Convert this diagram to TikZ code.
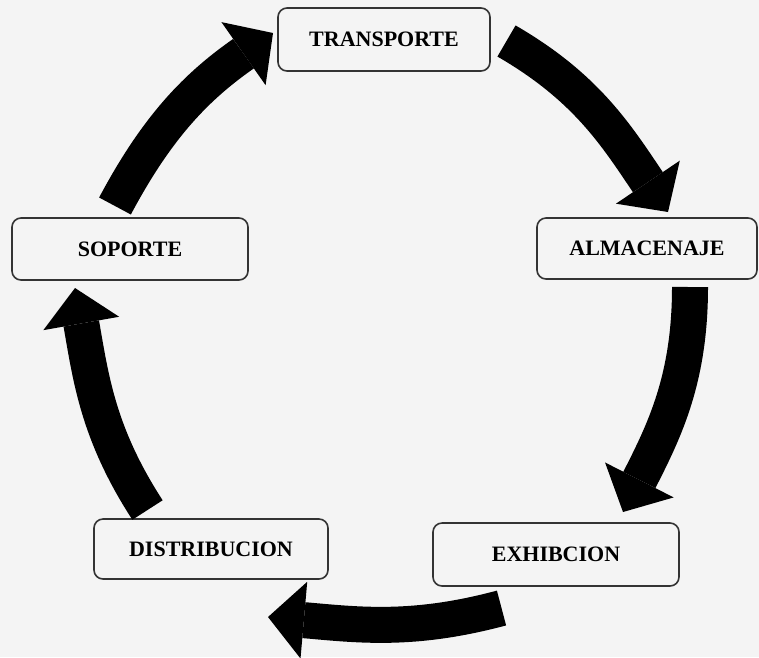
\documentclass[tikz,border=0pt]{standalone}
\usepackage{fontspec}
\setmainfont{Liberation Serif}
\usetikzlibrary{arrows.meta}
\definecolor{paper}{HTML}{F4F4F4}
\definecolor{rim}{HTML}{333333}

\begin{document}
\begin{tikzpicture}[x=1pt, y=-1pt]
        \tikzstyle{stage} = [rectangle, rounded corners=9pt, draw=rim, line width=1.6pt, fill=paper, inner sep=0pt, font=\bfseries\fontsize{22}{26}\selectfont]
        \tikzstyle{flow}  = [line width=36pt, -{Triangle[width=77pt, length=36pt, line width=0pt]}]

        \fill [paper] (0,0) rectangle (759,657);
        \useasboundingbox (0,0) rectangle (759,657);

        \node [stage, minimum width=212pt, minimum height=63pt](transporte) at (384, 39.5) {TRANSPORTE};
        \node [stage, minimum width=220pt, minimum height=61pt](almacenaje) at (647, 248.5) {ALMACENAJE};
        \node [stage, minimum width=246pt, minimum height=63pt](exhibcion) at (556, 554.5) {EXHIBCION};
        \node [stage, minimum width=234pt, minimum height=60pt](distribucion) at (211, 549) {DISTRIBUCION};
        \node [stage, minimum width=236pt, minimum height=62pt](soporte) at (130, 249) {SOPORTE};

        \coordinate (s1) at (115, 206);   \coordinate (e1) at (273, 33);
        \coordinate (s2) at (506.5, 41);  \coordinate (e2) at (668, 212);
        \coordinate (s3) at (690, 287);   \coordinate (e3) at (623, 512);
        \coordinate (s4) at (501.5, 608); \coordinate (e4) at (268, 617);
        \coordinate (s5) at (147.5, 510); \coordinate (e5) at (75, 288);

        \foreach \a/\o/\i in {1/62/215, 2/-30/124, 3/-90/63, 4/195/-5, 5/123/-80}
        {
                \draw [flow] (s\a) to[out=\o, in=\i] (e\a);
        }
\end{tikzpicture}
\end{document}
